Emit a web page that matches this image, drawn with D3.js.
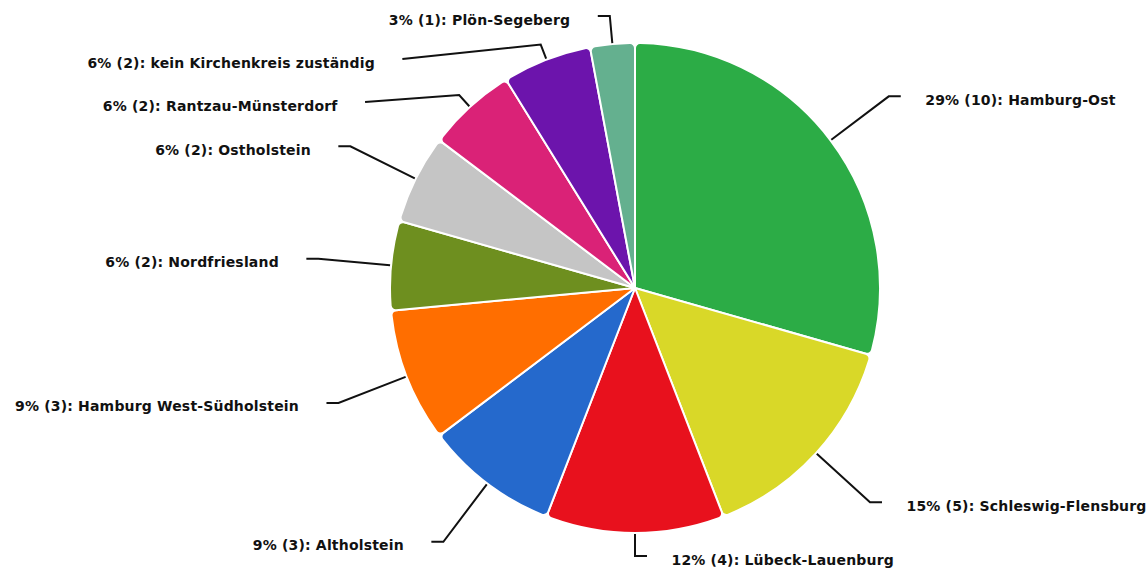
<!DOCTYPE html>
<html><head><meta charset="utf-8">
<script src="https://cdn.jsdelivr.net/npm/d3@7/dist/d3.min.js"></script>
<style>body{margin:0;background:#fff} svg{display:block}</style>
</head><body>
<svg id="chart" width="1147" height="569"></svg>
<script>
const categories = ["Hamburg-Ost","Schleswig-Flensburg","Lübeck-Lauenburg","Altholstein","Hamburg West-Südholstein","Nordfriesland","Ostholstein","Rantzau-Münsterdorf","kein Kirchenkreis zuständig","Plön-Segeberg"];
const counts = [10,5,4,3,3,2,2,2,2,1];
const colors = ["#2cac46","#d9d828","#e8111d","#2569cc","#ff6e00","#6e8f1f","#c5c5c5","#da2277","#6c14ac","#64b08f"];

const W = 1147, H = 569, cx = 635, cy = 288, R = 245;
const svg = d3.select("#chart");
const total = d3.sum(counts);
const pieData = d3.pie().sort(null).value(d => d)(counts);
const arc = d3.arc().innerRadius(0).outerRadius(R).cornerRadius(5);

const g = svg.append("g").attr("transform", `translate(${cx},${cy})`);
g.selectAll("path.slice").data(pieData).join("path")
  .attr("class","slice")
  .attr("d", arc)
  .attr("fill", (d,i) => colors[i])
  .attr("stroke", "#fff")
  .attr("stroke-width", 2)
  .attr("stroke-linejoin","round");

// label layout
const rEdge = R + 1, len1 = 72, len2 = 12, minLen = 15, spacing = 43, topY = 16, botY = 556;
const rA = rEdge + len1;
const items = pieData.map((p,i) => {
  const a = (p.startAngle + p.endAngle) / 2;
  const dx = Math.sin(a), dy = -Math.cos(a);
  const side = a <= Math.PI + 1e-6 ? 1 : -1;
  const p0 = [cx + rEdge*dx, cy + rEdge*dy];
  const natY = cy + rA*dy;
  return {i, a, dx, dy, side, p0, natY, y: natY};
});
[1,-1].forEach(s => {
  const list = items.filter(d => d.side === s).sort((a,b) => a.natY - b.natY);
  for (let k = 0; k < list.length; k++) {
    const lo = k === 0 ? topY : list[k-1].y + spacing;
    list[k].y = Math.max(list[k].y, lo);
  }
  for (let k = list.length - 1; k >= 0; k--) {
    const hi = k === list.length - 1 ? botY : list[k+1].y - spacing;
    list[k].y = Math.min(list[k].y, hi);
  }
});
items.forEach(it => {
  const p0 = it.p0;
  let p1, p2;
  if (Math.abs(it.y - it.natY) < 0.5) {
    p1 = [p0[0] + len1*it.dx, p0[1] + len1*it.dy];
    p2 = [p1[0] + it.side*len2, it.y];
  } else {
    const t = Math.abs(it.dy) > 1e-6 ? (it.y - p0[1]) / it.dy : -1;
    if (t >= minLen) {
      p1 = [p0[0] + t*it.dx, it.y];
      p2 = [p1[0] + it.side*len2, it.y];
    } else {
      p1 = [p0[0] + minLen*it.dx, p0[1] + minLen*it.dy];
      const ddy = it.y - cy;
      p2 = [cx + it.side*(Math.sqrt(Math.max(0, rA*rA - ddy*ddy)) + len2), it.y];
    }
  }
  it.pts = [p0, p1, p2];
  it.tx = p2[0] + (it.side > 0 ? 24.5 : -27.5);
});

svg.selectAll("path.guide").data(items).join("path")
  .attr("class","guide")
  .attr("d", d => d3.line()(d.pts))
  .attr("fill","none")
  .attr("stroke","#111")
  .attr("stroke-width",2);

svg.selectAll("text.lbl").data(items).join("text")
  .attr("class","lbl")
  .attr("x", d => d.tx)
  .attr("y", d => d.y + 8.6)
  .attr("text-anchor", d => d.side > 0 ? "start" : "end")
  .attr("font-family","'DejaVu Sans', sans-serif")
  .attr("font-weight","bold")
  .attr("font-size", 14)
  .attr("letter-spacing", 0.18)
  .attr("fill","#111")
  .text(d => `${Math.round(counts[d.i]/total*100)}% (${counts[d.i]}): ${categories[d.i]}`);
</script>
</body></html>
